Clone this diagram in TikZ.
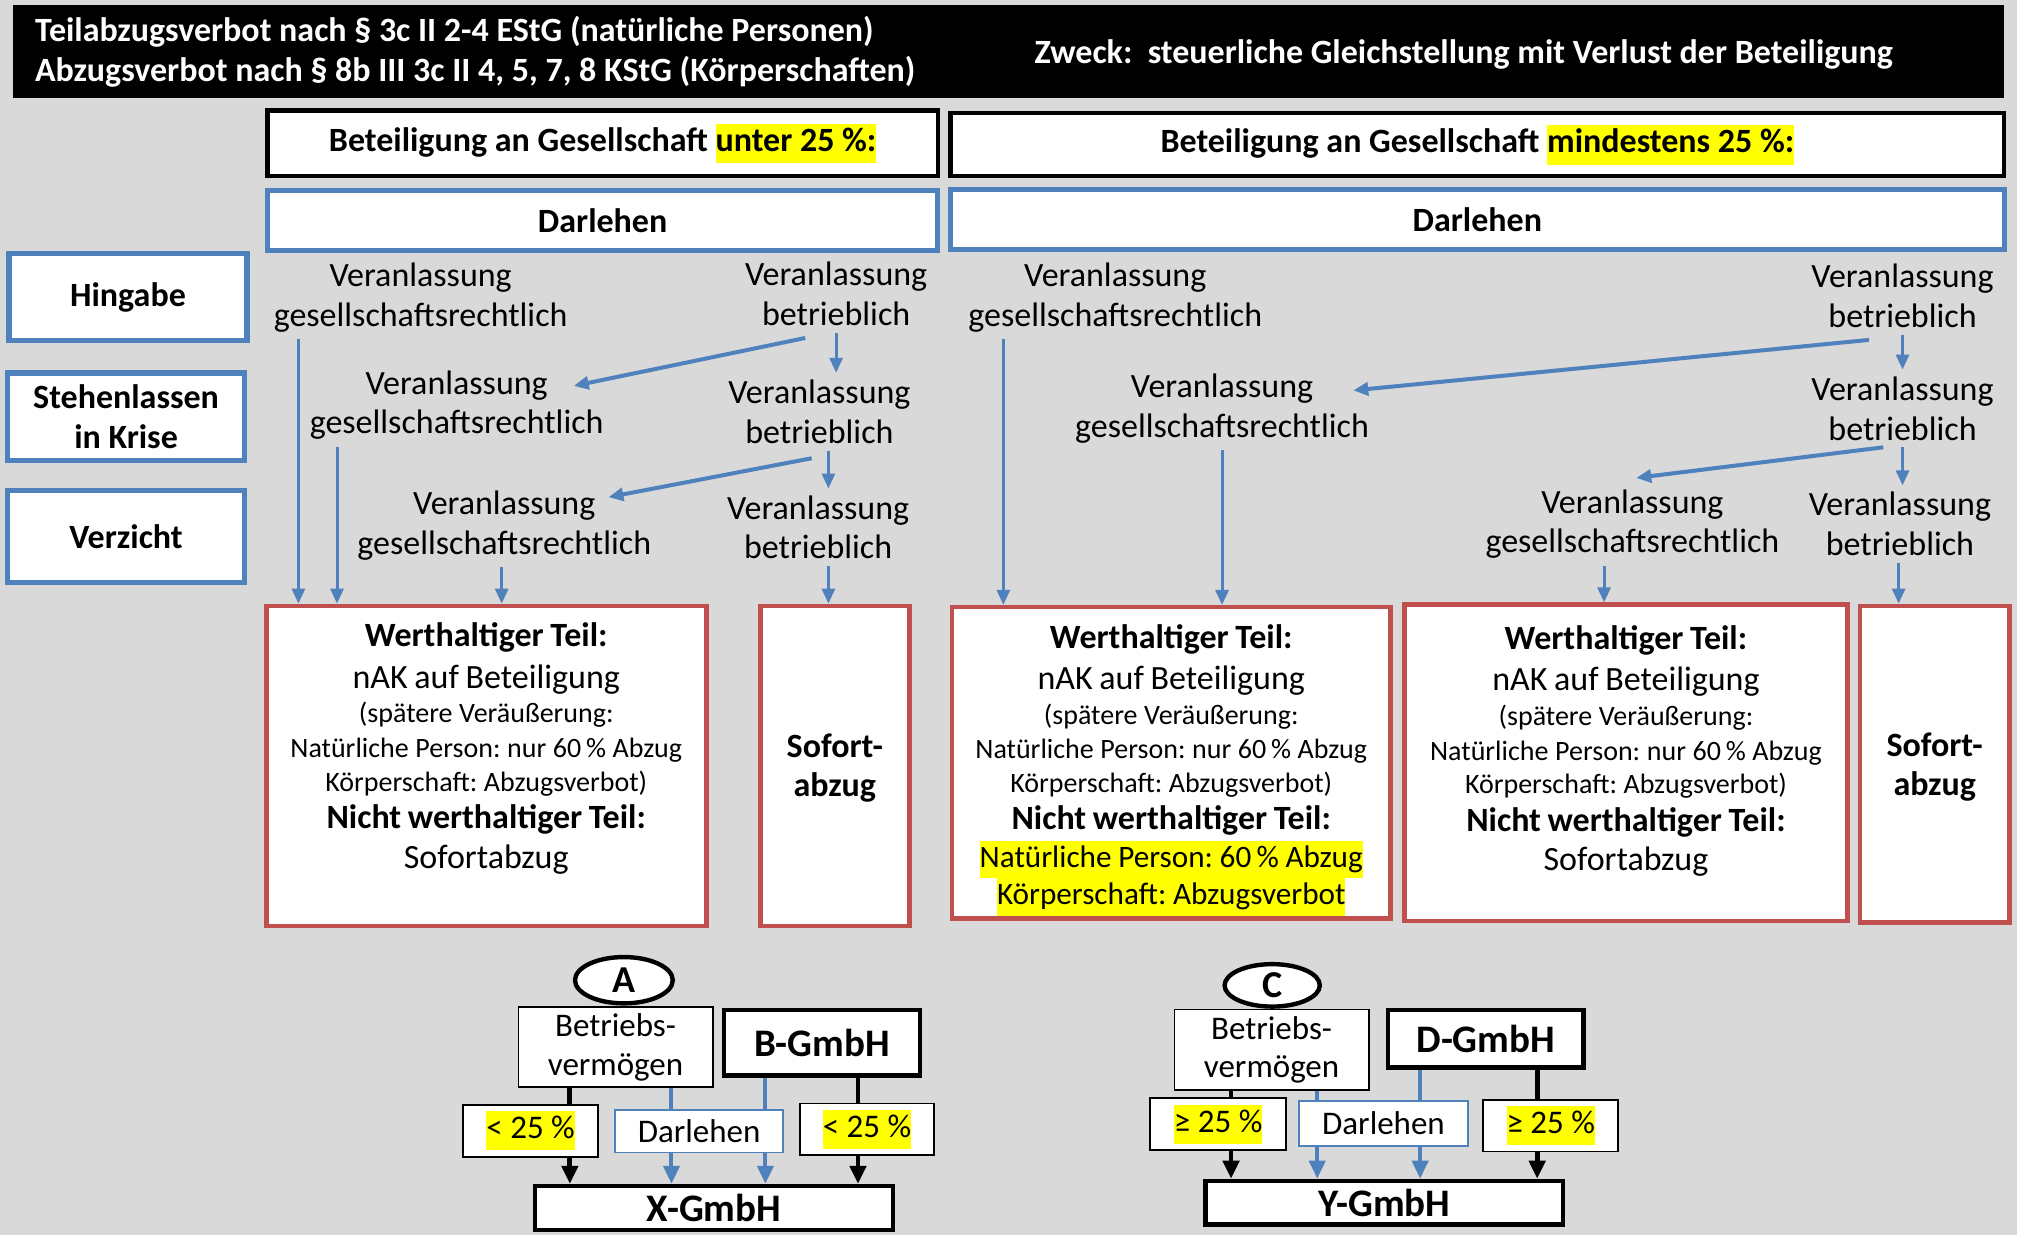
\documentclass[tikz,border=0pt]{standalone}
\usepackage{fontspec}
\setmainfont{Carlito}
\usetikzlibrary{arrows.meta,calc,shapes.geometric}

\definecolor{bgGray}{HTML}{D9D9D9}
\definecolor{boxBlue}{HTML}{4F81BD}
\definecolor{boxRed}{HTML}{C0504D}
\definecolor{markYellow}{HTML}{FFFF00}

\frenchspacing
\newcommand{\px}{0.6433pt}
\newcommand{\fsz}[2]{\fontsize{#1}{#2}\selectfont}
\newcommand{\gelb}[1]{{\setlength{\fboxsep}{0pt}\colorbox{markYellow}{\strut #1}}}
% text of the red boxes, last lines as argument
\newcommand{\wertText}[1]{%
  {\bfseries\fsz{17}{20}Werthaltiger Teil:\par}
  {\fsz{17}{20.6}nAK auf Beteiligung\par}
  {\fsz{14}{17.4}(spätere Veräußerung:\par}
  {\fsz{14}{17.4}Natürliche Person: nur 60\,\% Abzug\par}
  {\fsz{14}{16.7}Körperschaft: Abzugsverbot)\par}
  {\bfseries\fsz{17}{18.7}Nicht werthaltiger Teil:\par}
  #1}

\tikzset{
  sz/.style 2 args={minimum width=#1*\px, minimum height=#2*\px},
  hdrbox/.style={fill=black, inner sep=0pt},
  topbox/.style={draw=black, line width=2.2pt, fill=white, font=\bfseries\fsz{17}{19.9}},
  darbox/.style={draw=boxBlue, line width=2.6pt, fill=white, font=\bfseries\fsz{17}{19.9}},
  redbox/.style={draw=boxRed, line width=2.3pt, fill=white},
  veran/.style={align=center, font=\fsz{17}{19.9}},
  wert/.style={anchor=north, text width=335*\px, align=center, inner sep=0pt},
  arr/.style={boxBlue, line width=1.5pt, -{Triangle[length=7.5pt,width=6.5pt]}},
  diagarr/.style={arr, line width=2pt},
  thinbox/.style={draw=black, line width=0.9pt, fill=white, font=\fsz{16.5}{19.3}},
  thickbox/.style={draw=black, line width=2.2pt, fill=white, font=\bfseries\fsz{19.5}{22}},
  loanbox/.style={draw=boxBlue, line width=0.9pt, fill=white, font=\fsz{16.5}{19.3}},
  markell/.style={ellipse, draw=black, line width=2.2pt, fill=white, inner sep=0pt, font=\bfseries\fsz{19}{22}},
  own/.style={black, line width=2.4pt},
  ownarr/.style={own, -{Triangle[length=9pt,width=8pt]}},
  loan/.style={boxBlue, line width=2pt},
  loanarr/.style={loan, -{Triangle[length=9pt,width=8pt]}},
}

\begin{document}
\begin{tikzpicture}[x=\px, y=-\px]
  \fill[bgGray] (0,0) rectangle (1568,960);
  \useasboundingbox (0,0) rectangle (1568,960);

  % header
  \node[hdrbox, sz={1548}{72}] (hdr) at (784,40) {};
  \node[anchor=west, align=left, text=white, font=\bfseries\fsz{17}{19.9}, inner sep=0pt] (hdrL) at (27,40)
    {Teilabzugsverbot nach § 3c II 2-4 EStG (natürliche Personen)\\Abzugsverbot nach § 8b III 3c II 4, 5, 7, 8 KStG (Körperschaften)};
  \node[text=white, font=\bfseries\fsz{17}{19.9}] (hdrR) at (1138,42)
    {Zweck:\ \ steuerliche Gleichstellung mit Verlust der Beteiligung};

  \node[topbox, sz={521}{51}] (betL) at (468.5,111.5) {Beteiligung an Gesellschaft \gelb{unter 25~\%:}};
  \node[topbox, sz={819}{49}] (betR) at (1148.5,112.5) {Beteiligung an Gesellschaft \gelb{mindestens 25~\%:}};
  \node[darbox, sz={521}{47}] (darL) at (468.5,171.5) {Darlehen};
  \node[darbox, sz={819}{47}] (darR) at (1148.5,170.5) {Darlehen};

  % row labels
  \node[darbox, sz={185}{68}] (hing) at (99.5,231) {Hingabe};
  \node[darbox, sz={184}{68}, align=center] (steh) at (98,324) {Stehenlassen\\in Krise};
  \node[darbox, sz={184}{72}] (verz) at (98,417) {Verzicht};

  % Veranlassung
  \foreach \nm/\x/\y/\txt in {
    g1/327/231.5/gesellschaftsrechtlich,
    b1/650/228.5/betrieblich,
    g2/355/315/gesellschaftsrechtlich,
    b2/637/320/betrieblich,
    g3/392/408.5/gesellschaftsrechtlich,
    b3/636/410/betrieblich,
    g4/867/231.5/gesellschaftsrechtlich,
    b4/1479/230/betrieblich,
    g5/950/317.5/gesellschaftsrechtlich,
    b5/1479/317.5/betrieblich,
    g6/1269/407.5/gesellschaftsrechtlich,
    b6/1477/407.5/betrieblich} {
      \node[veran] (\nm) at (\x,\y) {Veranlassung\\\txt};
    }

  % result boxes
  \foreach \nm/\x/\y/\w/\h in {
    wL/378/595.5/342/249,
    sL/649/595.5/116/249,
    wM/910.5/593/341/242,
    wR/1264/593/344/246,
    sR/1504/594/116/246} {
      \node[redbox, sz={\w}{\h}] (\nm) at (\x,\y) {};
    }
  \node[wert] (wLt) at (378,484) {\wertText{{\fsz{17}{19.9}Sofortabzug\par}}};
  \node[wert] (wMt) at (910.5,485) {\wertText{{\fsz{15.6}{18.7}\gelb{Natürliche Person: 60\,\% Abzug}\par}
    {\fsz{15.6}{18.7}\gelb{Körperschaft: Abzugsverbot}\par}}};
  \node[wert] (wRt) at (1264,486) {\wertText{{\fsz{17}{19.9}Sofortabzug\par}}};
  \node[align=center, font=\bfseries\fsz{17}{19.6}] (sLt) at (649,597) {Sofort-\\abzug};
  \node[align=center, font=\bfseries\fsz{17}{19.6}] (sRt) at (1504,596) {Sofort-\\abzug};

  % arrows, left part
  \draw[arr] (g1.south -| 232,0) -- (wL.north -| 232,0);
  \draw[arr] (g2.south -| 262,0) -- (wL.north -| 262,0);
  \draw[arr] (g3.south -| 390,0) -- (wL.north -| 390,0);
  \draw[arr] (b1.south -| 650,0) -- (b2.north -| 650,0);
  \draw[arr] (b2.south -| 644,0) -- (b3.north -| 644,0);
  \draw[arr] (b3.south -| 644,0) -- (sL.north -| 644,0);
  \draw[diagarr] ($(b1.south)+(-24,4)$) -- ($(g2.center)+(91,-15)$);
  \draw[diagarr] ($(b2.south)+(-6,6)$) -- ($(g3.center)+(81,-22)$);

  % arrows, right part
  \draw[arr] (g4.south -| 780,0) -- (wM.north -| 780,0);
  \draw[arr] (g5.south -| 950,0) -- (wM.north -| 950,0);
  \draw[arr] (b4.south -| 1479,0) -- (b5.north -| 1479,0);
  \draw[arr] (b5.south -| 1479,0) -- (b6.north -| 1479,0);
  \draw[arr] (g6.south -| 1247,0) -- (wR.north -| 1247,0);
  \draw[arr] (b6.south -| 1476,0) -- (sR.north -| 1476,0);
  \draw[diagarr] ($(b4.south)+(-26,4)$) -- ($(g5.center)+(102,-14)$);
  \draw[diagarr] ($(b5.south)+(-15,0)$) -- ($(g6.center)+(3,-36)$);

  % example A
  \node[markell, sz={76}{36}] (tagA) at (485,762) {A};
  \node[thinbox, sz={151}{62}, align=center] (bvA) at (478.5,814) {Betriebs-\\vermögen};
  \node[thickbox, sz={152}{51}] (gmbhB) at (639,810.5) {B-GmbH};
  \node[thinbox, sz={105}{34}] (pctA1) at (412.5,879) {\gelb{<~25~\%}};
  \node[loanbox, sz={131}{33}] (loanA) at (543.5,879.5) {Darlehen};
  \node[thinbox, sz={104}{34}] (pctA2) at (674,878) {\gelb{<~25~\%}};
  \node[thickbox, sz={278}{34}] (gmbhX) at (555,939) {X-GmbH};
  \draw[own] (bvA.south -| 443,0) -- (pctA1.north -| 443,0);
  \draw[ownarr] (pctA1.south -| 443,0) -- (gmbhX.north -| 443,0);
  \draw[loan] (bvA.south -| 522,0) -- (loanA.north -| 522,0);
  \draw[loan] (gmbhB.south -| 595,0) -- (loanA.north -| 595,0);
  \draw[loanarr] (loanA.south -| 522,0) -- (gmbhX.north -| 522,0);
  \draw[loanarr] (loanA.south -| 595,0) -- (gmbhX.north -| 595,0);
  \draw[own] (gmbhB.south -| 667,0) -- (pctA2.north -| 667,0);
  \draw[ownarr] (pctA2.south -| 667,0) -- (gmbhX.north -| 667,0);

  % example C
  \node[markell, sz={74}{33}] (tagC) at (989,766) {C};
  \node[thinbox, sz={151}{60}, align=center] (bvC) at (988.5,816) {Betriebs-\\vermögen};
  \node[thickbox, sz={152}{45}] (gmbhD) at (1155,807.5) {D-GmbH};
  \node[thinbox, sz={106}{34}] (pctC1) at (947,874) {\gelb{≥~25~\%}};
  \node[loanbox, sz={131}{35}] (loanC) at (1075.5,873.5) {Darlehen};
  \node[thinbox, sz={105}{34}] (pctC2) at (1205.5,875) {\gelb{≥~25~\%}};
  \node[thickbox, sz={278}{34}] (gmbhY) at (1076,935) {Y-GmbH};
  \draw[own] (bvC.south -| 957,0) -- (pctC1.north -| 957,0);
  \draw[ownarr] (pctC1.south -| 957,0) -- (gmbhY.north -| 957,0);
  \draw[loan] (bvC.south -| 1024,0) -- (loanC.north -| 1024,0);
  \draw[loan] (gmbhD.south -| 1104,0) -- (loanC.north -| 1104,0);
  \draw[loanarr] (loanC.south -| 1024,0) -- (gmbhY.north -| 1024,0);
  \draw[loanarr] (loanC.south -| 1104,0) -- (gmbhY.north -| 1104,0);
  \draw[own] (gmbhD.south -| 1195,0) -- (pctC2.north -| 1195,0);
  \draw[ownarr] (pctC2.south -| 1195,0) -- (gmbhY.north -| 1195,0);
\end{tikzpicture}
\end{document}
